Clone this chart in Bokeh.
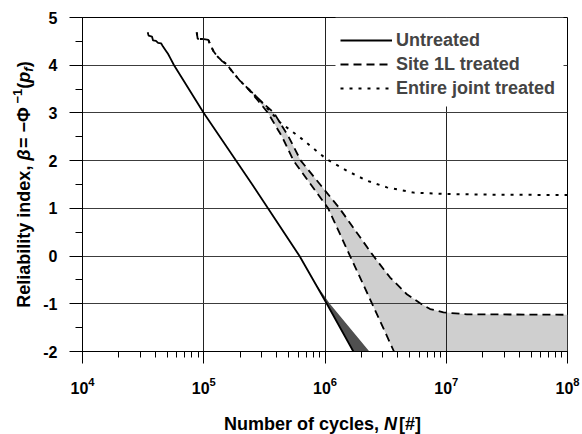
import numpy as np
from bokeh.plotting import figure
from bokeh.layouts import row, column
from bokeh.models import (Range1d, Label, Legend, LegendItem, SingleIntervalTicker,
                          LogTicker, BoxAnnotation)
from bokeh.embed import file_html
from bokeh.resources import INLINE

# ---------------- data (log10 N, beta) ----------------
untreated_logN = [4.538, 4.545, 4.573, 4.582, 4.606, 4.623, 4.648, 4.664, 4.689, 4.705,
                  4.722, 4.755, 5.0, 5.40, 5.79, 6.015, 6.234]
untreated_beta = [4.69, 4.62, 4.60, 4.52, 4.51, 4.47, 4.46, 4.39, 4.30, 4.24,
                  4.16, 4.00, 3.0, 1.5, 0.0, -1.0, -2.0]

# spread of the untreated curve (dark wedge)
wedge_left_logN = [5.902, 6.015, 6.234]
wedge_left_beta = [-0.5, -1.0, -2.0]
wedge_right_logN = [5.902, 6.04, 6.366]
wedge_right_beta = [-0.5, -1.0, -2.0]

# common (noisy) start of the treated curves
treated_top_logN = [4.942, 4.950, 4.997, 5.038, 5.052, 5.079, 5.107, 5.149, 5.190, 5.231,
                    5.300, 5.357]
treated_top_beta = [4.69, 4.55, 4.55, 4.53, 4.44, 4.30, 4.20, 4.09, 4.02, 3.88,
                    3.67, 3.53]

site_lo_logN = [5.357, 5.45, 5.530, 5.646, 5.740, 6.026, 6.207, 6.389, 6.569]
site_lo_beta = [3.53, 3.25, 3.0, 2.5, 2.0, 1.0, 0.0, -1.0, -2.0]

site_hi_logN = [5.357, 5.47, 5.58, 5.70, 5.80, 5.96, 6.12, 6.26, 6.40, 6.537, 6.675,
                6.785, 6.867, 6.977, 7.17, 8.0]
site_hi_beta = [3.53, 3.25, 3.0, 2.5, 2.0, 1.5, 1.0, 0.5, 0.0, -0.45, -0.80,
                -0.99, -1.11, -1.18, -1.22, -1.23]

entire_logN = [5.47, 5.63, 5.795, 5.96, 6.015, 6.18, 6.345, 6.51, 6.73, 7.0, 7.45, 8.0]
entire_beta = [3.25, 2.80, 2.485, 2.14, 2.03, 1.79, 1.58, 1.44, 1.33, 1.30, 1.285, 1.28]

ytick_vals = [-2, -1, 0, 1, 2, 3, 4, 5]
ytick_labels = ["-2", "-1", "0", "1", "2", "3", "4", "5"]

series_names = ["Untreated", "Site 1L treated", "Entire joint treated"]

# ---------------- helpers ----------------
def N(lst):
    return [10 ** v for v in lst]

FONT = "Liberation Sans"
W_BOLD = {' ': 278, ',': 278, '(': 333, ')': 333, '=': 584, '\u2212': 584, 'R': 722,
          'e': 556, 'l': 278, 'i': 278, 'a': 556, 'b': 611, 't': 333, 'y': 556,
          'n': 611, 'd': 611, 'x': 556, '1': 556, 'p': 611, 'f': 333, 'N': 722,
          'u': 611, 'm': 889, 'r': 389, 'o': 611, 'c': 556, 's': 556, '[': 333,
          ']': 333, '#': 556, '\u03b2': 700, '\u03a6': 750}

def tw(text, size):
    return sum(W_BOLD.get(ch, 600) for ch in text) * size / 1000.0

W, H = 582, 434
YW = 40            # width of the y-title strip
XH = 31            # height of the x-title strip
MW, MH = W - YW, H - XH
FL, FR, FT, FB = 82, 567, 17, 351   # frame edges in page pixels

p = figure(width=MW, height=MH, x_axis_type="log", x_range=Range1d(1e4, 1e8),
           y_range=Range1d(-2, 5), output_backend="svg", toolbar_location=None,
           min_border_left=FL - YW, min_border_right=W - FR, min_border_top=FT,
           min_border_bottom=MH - FB, background_fill_color="white",
           border_fill_color="white")
p.outline_line_color = "black"
p.outline_line_width = 1

# fills
lg_x = N(site_lo_logN) + [1e8, 1e8] + N(site_hi_logN[::-1])
lg_y = site_lo_beta + [-2.0, site_hi_beta[-1]] + site_hi_beta[::-1]
p.patch(lg_x, lg_y, fill_color="#cfcfcf", line_color=None, level="underlay")

wd_x = N(wedge_left_logN) + N(wedge_right_logN[::-1])
wd_y = wedge_left_beta + wedge_right_beta[::-1]
p.patch(wd_x, wd_y, fill_color="#505050", line_color=None, level="underlay")

# lines
r_un = p.line(N(untreated_logN), untreated_beta, line_color="black", line_width=1.8)
r_s1 = p.line(N(treated_top_logN + site_lo_logN[1:]), treated_top_beta + site_lo_beta[1:],
              line_color="black", line_width=1.8, line_dash="8 5")
p.line(N(site_hi_logN), site_hi_beta, line_color="black", line_width=1.8, line_dash="8 5")
r_en = p.line(N(treated_top_logN + entire_logN), treated_top_beta + entire_beta,
              line_color="black", line_width=2, line_dash="3 6")

# axes
p.xaxis.ticker = LogTicker(num_minor_ticks=10)
p.xaxis.major_tick_out = 12
p.xaxis.major_tick_in = 0
p.xaxis.minor_tick_out = 6
p.xaxis.minor_tick_in = 0
p.xaxis.major_label_standoff = 13

yt = SingleIntervalTicker(interval=1, num_minor_ticks=2)
p.yaxis.ticker = yt
p.yaxis.major_label_overrides = {v: s for v, s in zip(ytick_vals, ytick_labels)}
p.yaxis.major_tick_out = 13
p.yaxis.major_tick_in = 0
p.yaxis.minor_tick_out = 7
p.yaxis.minor_tick_in = 0
p.yaxis.major_label_standoff = 12

for ax in (p.xaxis, p.yaxis):
    ax.axis_line_color = "black"
    ax.major_tick_line_color = "black"
    ax.minor_tick_line_color = "black"
    ax.major_label_text_font = FONT
    ax.major_label_text_font_style = "bold"
    ax.major_label_text_font_size = "16px"
    ax.major_label_text_color = "black"

p.ygrid.ticker = yt
p.ygrid.grid_line_color = "#3c3c3c"
p.xgrid.grid_line_color = "#222222"

# white area behind the legend (hides the grid there)
def bx(px):
    return 10 ** (4 + (px - FL) / ((FR - FL) / 4.0))

def by(py):
    return 5 - (py - FT) / ((FB - FT) / 7.0)

p.add_layout(BoxAnnotation(left=bx(335), right=bx(563), top=by(FT), bottom=by(106),
                           fill_color="white", fill_alpha=1.0, line_color=None,
                           level="underlay"))

# legend
legend = Legend(items=[LegendItem(label=series_names[0], renderers=[r_un]),
                       LegendItem(label=series_names[1], renderers=[r_s1]),
                       LegendItem(label=series_names[2], renderers=[r_en])],
                location=(340 - FL, FB - 100))
legend.label_text_font = FONT
legend.label_text_font_style = "bold"
legend.label_text_font_size = "18px"
legend.glyph_width = 52
legend.glyph_height = 24
legend.label_height = 24
legend.spacing = 0
legend.padding = 4
legend.margin = 0
legend.label_standoff = 4
legend.border_line_color = None
legend.background_fill_alpha = 0.0
p.add_layout(legend)

# ---------------- title strips (data coords == page pixels) ----------------
def strip(w, h, xr, yr, borders):
    l, r, t, b = borders
    f = figure(width=w, height=h, x_range=Range1d(*xr), y_range=Range1d(*yr),
               output_backend="svg", toolbar_location=None,
               min_border_left=l, min_border_right=r, min_border_top=t,
               min_border_bottom=b, x_axis_location=None, y_axis_location=None,
               background_fill_color="white", border_fill_color="white")
    f.outline_line_color = None
    f.grid.visible = False
    return f

# y strip: frame spans page y FT..FB (same as the main frame), x 0..YW
ystrip = strip(YW, H, (0, YW), (FB, FT), (0, 0, FT, H - FB))
# x strip: frame spans page x FL..FR (aligned with the main frame), y MH..H
xstrip = strip(MW, XH, (FL, FR), (H, MH), (FL - YW, W - FR, 0, 0))

def put(fig, text, px, py, size, style, angle=0.0):
    fig.add_layout(Label(x=px, y=py, text=text, text_font=FONT,
                         text_font_style=style, text_font_size=f"{size}px",
                         text_color="black", text_align="left",
                         text_baseline="alphabetic", angle=angle))

X_BASE = 423   # baseline of the x title (compensates the strip offset)
xs = [("Number of cycles, ", 18, "bold", 0, 0), ("N", 18, "bold italic", 0, 2),
      (" [#]", 18, "bold", 0, 0)]
tot = sum(tw(t, s) + extra for t, s, _, _, extra in xs)
px = (FL + FR) / 2.0 - tot / 2.0
for t, s, st, dy, extra in xs:
    put(xstrip, t, px, X_BASE - dy, s, st)
    px += tw(t, s) + extra

ys = [("Reliability index, ", 18, "bold", 0), ("\u03b2", 18, "bold italic", 0),
      (" = \u2212\u03a6", 18, "bold", 0), ("\u22121", 13, "bold", -7),
      ("(", 18, "bold", 0), ("p", 18, "bold italic", 0), ("f", 13, "bold italic", 4),
      (")", 18, "bold", 0)]
tot = sum(tw(t, s) for t, s, _, _ in ys)
py = (FT + FB) / 2.0 + tot / 2.0
for t, s, st, dx in ys:
    put(ystrip, t, 23.5 + dx, py, s, st, angle=np.pi / 2)
    py -= tw(t, s)

layout = row(ystrip, column(p, xstrip))
open("out.html", "w").write(file_html(layout, INLINE))
